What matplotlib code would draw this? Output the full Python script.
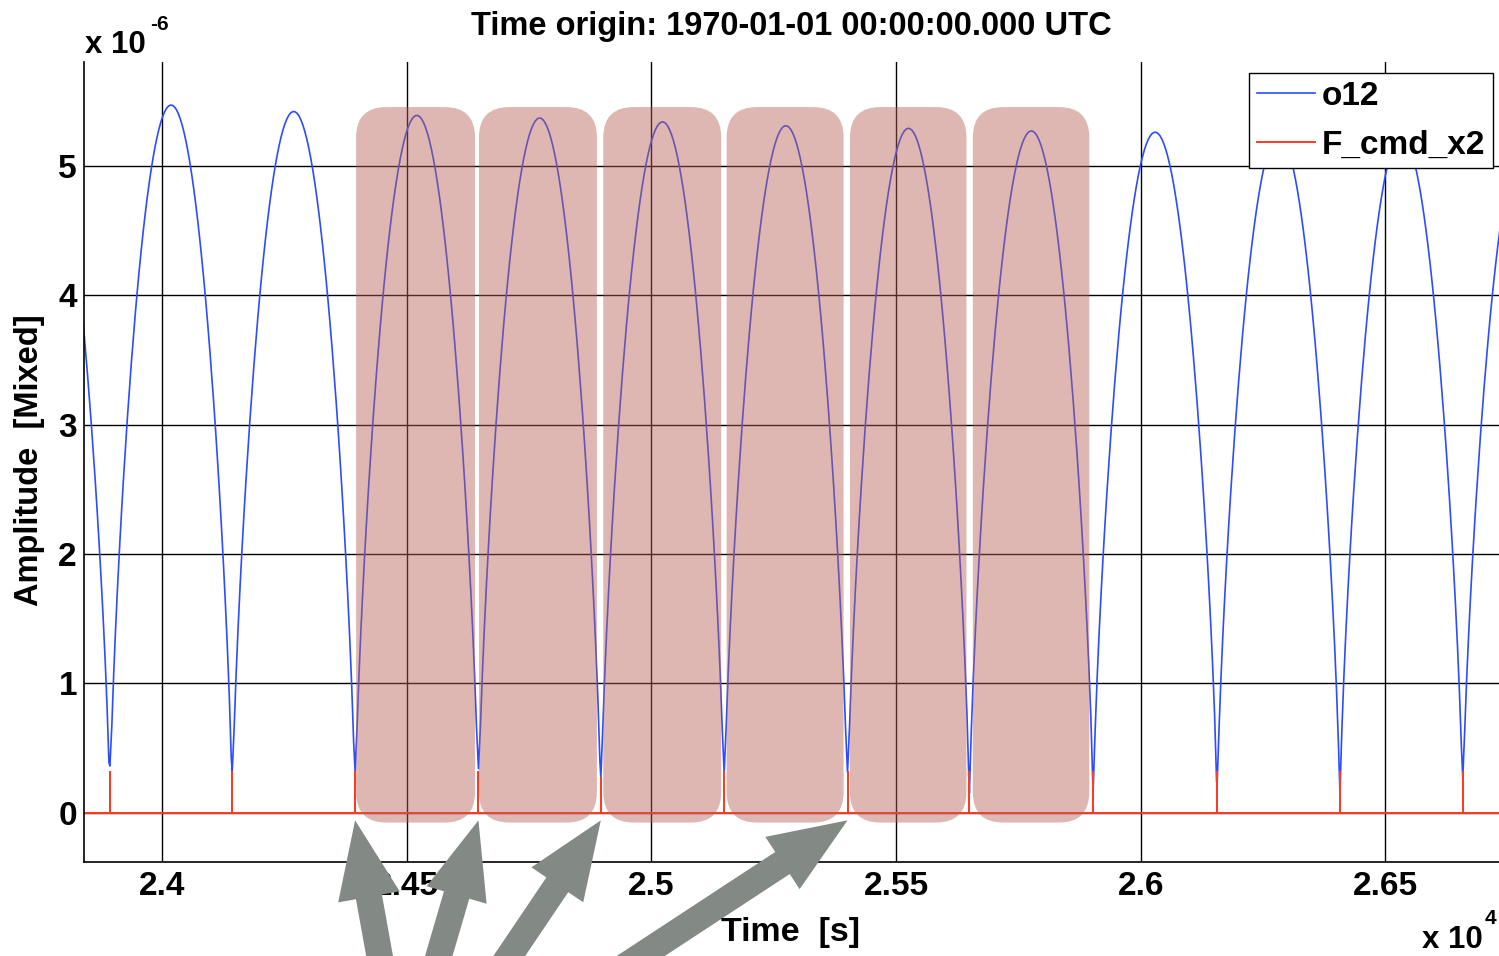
import numpy as np
import matplotlib.pyplot as plt
from matplotlib.patches import FancyBboxPatch
from matplotlib.ticker import FuncFormatter, MultipleLocator

plt.rcParams['font.family'] = ['Liberation Sans', 'DejaVu Sans']
plt.rcParams['font.weight'] = 'bold'

# o12: zero crossings (s), first and last lie just outside the window
zero_t = [23620, 23894, 24144, 24395, 24647, 24897, 25149, 25401, 25650,
          25903, 26156, 26407, 26658, 26910]
# peak of each arch between two zero crossings (x 1e-6)
peak_amp = [5.50, 5.47, 5.42, 5.39, 5.37, 5.34, 5.31, 5.29, 5.27, 5.26,
            5.24, 5.23, 5.22]
# lowest o12 sample at each visible dip
dip_min = [0.36, 0.32, 0.32, 0.34, 0.27, 0.31, 0.31, 0.15, 0.19, 0.21, 0.15, 0.27]

# F_cmd_x2 spikes
spike_t = zero_t[1:13]
spike_h = [0.31, 0.31, 0.31, 0.31, 0.27, 0.31, 0.31, 0.31, 0.31, 0.31, 0.31, 0.31]

# highlighted segments
box_start = [24397, 24648, 24902, 25154, 25406, 25657]
box_end = [24640, 24889, 25143, 25393, 25644, 25895]
box_bottom, box_top = -0.077, 5.454

# arrows point at these spikes, tails leave the figure at these x pixels
arrow_t = [24395, 24647, 24897, 25401]
arrow_tail_px = [385, 430, 489, 595]

x_lim = (23841, 26732)
y_lim = (-0.38, 5.8)

# build o12 trace from the arches
t_all, y_all = [], []
for k in range(len(peak_amp)):
    a, b = zero_t[k], zero_t[k + 1]
    t = np.arange(a, b, 4.0)
    y = peak_amp[k] * np.sin((t - a) / (b - a) * np.pi) ** 0.7
    mid = (a + b) / 2
    if k >= 1:
        y[t < mid] = np.maximum(y[t < mid], dip_min[k - 1])
    if k < len(dip_min):
        y[t >= mid] = np.maximum(y[t >= mid], dip_min[k])
    t_all.append(t)
    y_all.append(y)
t_all = np.concatenate(t_all)
y_all = np.concatenate(y_all)

# F_cmd_x2 trace: zero with short spikes
red_t = [x_lim[0]]
red_y = [0]
for s, h in zip(spike_t, spike_h):
    red_t += [s, s, s]
    red_y += [0, h, 0]
red_t.append(x_lim[1])
red_y.append(0)

fig = plt.figure(figsize=(14.99, 9.56), dpi=100)
ax = fig.add_axes([0.056, 0.0986, 0.944, 0.8362])

ax.plot(t_all, y_all, color='#2b4cff', lw=1.2, label='o12', zorder=2)
ax.plot(red_t, red_y, color='#ff3b22', lw=1.4, label='F_cmd_x2', zorder=2.1)

ax.set_xlim(*x_lim)
ax.set_ylim(*y_lim)

# rounded highlight boxes
r_x = 62
r_y = 0.235
for s, e in zip(box_start, box_end):
    p = FancyBboxPatch((s, box_bottom), e - s, box_top - box_bottom,
                       boxstyle=f'round,pad=0,rounding_size={r_x}',
                       mutation_aspect=r_y / r_x,
                       fc='#b65f54', ec='none', alpha=0.45, zorder=3)
    ax.add_patch(p)

ax.xaxis.set_major_locator(MultipleLocator(500))
ax.yaxis.set_major_locator(MultipleLocator(1))
ax.xaxis.set_major_formatter(FuncFormatter(lambda v, p: '%g' % (v / 1e4)))
ax.yaxis.set_major_formatter(FuncFormatter(lambda v, p: '%g' % v))
ax.tick_params(length=0, labelsize=24)
ax.tick_params(axis='x', pad=7)
ax.tick_params(axis='y', pad=5)
ax.grid(True, color='black', lw=1.0)
ax.set_axisbelow(True)
ax.spines['top'].set_visible(False)
ax.spines['right'].set_visible(False)
for sp in ['left', 'bottom']:
    ax.spines[sp].set_linewidth(1.2)

leg = ax.legend(loc='upper right', bbox_to_anchor=(0.9958, 0.9866),
                borderaxespad=0, fontsize=24, handlelength=1.75,
                handletextpad=0.2, labelspacing=0.52, borderpad=0.24,
                fancybox=False, framealpha=1, edgecolor='black')
leg.get_frame().set_linewidth(1.0)
leg.set_zorder(10)

for t, px in zip(arrow_t, arrow_tail_px):
    ax.annotate('', xy=(t, -0.06), xycoords='data',
                xytext=(px, -30), textcoords='figure pixels',
                arrowprops=dict(arrowstyle='simple,head_length=0.56,head_width=0.45,tail_width=0.19',
                                mutation_scale=100, fc='#838985', ec='none',
                                shrinkA=0, shrinkB=0),
                annotation_clip=False, zorder=12)

W, H = 1499, 956
fig.text(791 / W, 1 - 26 / H, 'Time origin: 1970-01-01 00:00:00.000 UTC',
         ha='center', va='center', fontsize=23.5)
fig.text(85 / W, 1 - 45 / H, 'x 10', ha='left', va='center', fontsize=22.5)
fig.text(150 / W, 1 - 25 / H, '-6', ha='left', va='center', fontsize=15)
fig.text(1422 / W, 1 - 940 / H, 'x 10', ha='left', va='center', fontsize=22.5)
fig.text(1485 / W, 1 - 918 / H, '4', ha='left', va='center', fontsize=15)
fig.text(30 / W, 1 - 460 / H, 'Amplitude  [Mixed]', ha='center', va='center',
         rotation=90, fontsize=23.5)
fig.text(791 / W, 1 - 932 / H, 'Time  [s]', ha='center', va='center', fontsize=24.5)

fig.savefig('out.png', dpi=100)
